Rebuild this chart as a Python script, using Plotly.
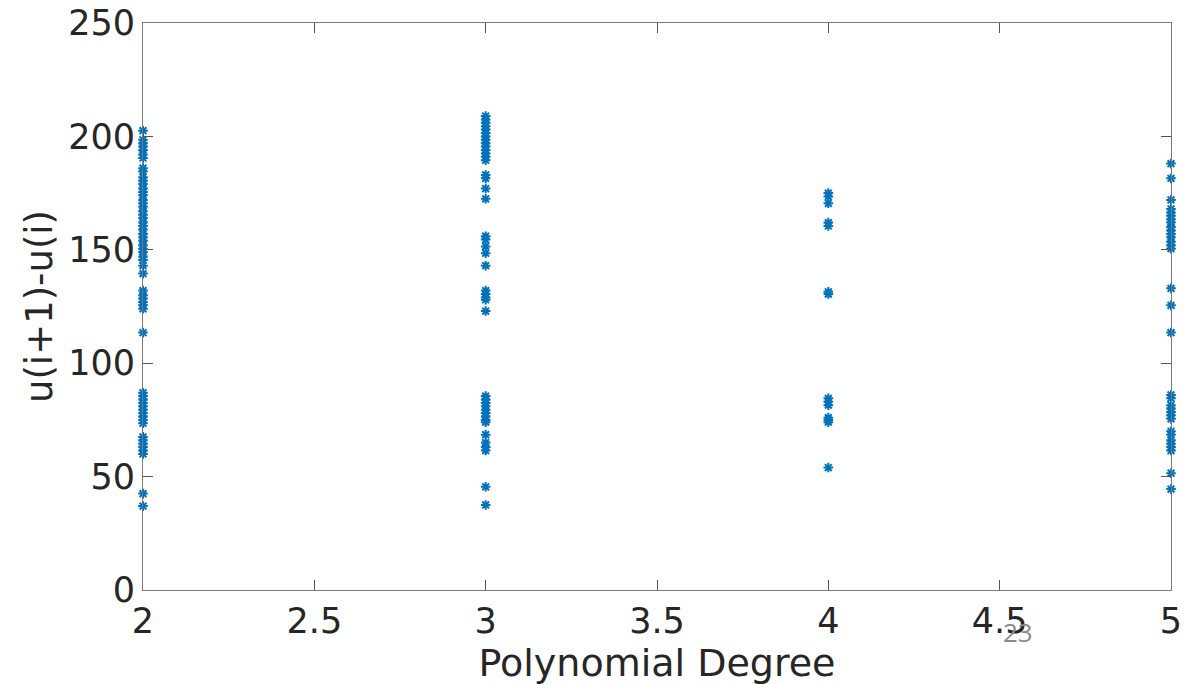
import plotly.graph_objects as go

# Data
degrees = [2, 3, 4, 5]
deg2_values = [202.5, 198.5, 197, 195.5, 194, 192, 190.5, 186, 184.5, 182, 180.5, 179, 177,
               175.5, 174, 172, 170.5, 169, 167, 165.5, 164, 162, 160.5, 159, 157, 155.5, 154,
               152, 150.5, 149, 147, 145.5, 143, 139.5, 132, 130, 128.5, 127, 125.5, 124, 113.5,
               87, 85.5, 84, 82.5, 81, 79.5, 78, 76.5, 75, 73.5, 67.5, 66, 64.5, 63, 61.5, 60,
               42.5, 37]
deg3_values = [209, 207.5, 206, 204.5, 203, 201.5, 200, 198.5, 197, 195.5, 194, 192.5, 191,
               189.5, 183, 181.5, 177, 172.5, 156, 154.5, 151.5, 148.5, 143, 132, 130.5, 129,
               128, 123, 85.5, 84, 82.5, 81, 79.5, 78, 76.5, 75, 74, 68.5, 65, 63, 61.5, 45.5, 37.5]
deg4_values = [175, 173.5, 170.5, 162, 160.5, 131.5, 130.5, 84.5, 83, 81.5, 76, 75, 74, 54]
deg5_values = [188, 181.5, 172, 168, 166.5, 165, 163.5, 162, 160, 158.5, 157, 155.5, 153.5,
               152, 150.5, 133, 125.5, 113.5, 86, 84.5, 81.5, 80, 78.5, 77, 75.5, 70, 68.5, 66,
               64.5, 63, 61.5, 51.5, 44.5]
x_ticks = [2, 2.5, 3, 3.5, 4, 4.5, 5]
x_tick_labels = ["2", "2.5", "3", "3.5", "4", "4.5", "5"]
y_ticks = [0, 50, 100, 150, 200, 250]
y_tick_labels = ["0", "50", "100", "150", "200", "250"]
page_number = "23"

xs, ys = [], []
for d, vals in zip(degrees, [deg2_values, deg3_values, deg4_values, deg5_values]):
    xs += [d] * len(vals)
    ys += vals

fig = go.Figure()
fig.add_trace(go.Scatter(
    x=xs, y=ys, mode="markers", cliponaxis=False,
    marker=dict(symbol="asterisk-open", size=8, color="#0072BD",
                line=dict(color="#0072BD", width=2)),
    showlegend=False,
))

font_family = "DejaVu Sans"
axis_common = dict(
    showgrid=False, zeroline=False, showline=True, linecolor="#7a7a7a", linewidth=1,
    mirror="ticks", ticks="inside", ticklen=10, tickcolor="#555555", tickwidth=1,
    tickfont=dict(family=font_family, size=35, color="#262626"), automargin=False,
    ticklabeloverflow="allow",
)
fig.update_xaxes(range=[2, 5], tickvals=x_ticks, ticktext=x_tick_labels,
                 title=dict(text="Polynomial Degree", standoff=4,
                            font=dict(family=font_family, size=38, color="#262626")),
                 **axis_common)
fig.update_yaxes(range=[0, 250], tickvals=y_ticks, ticktext=y_tick_labels,
                 title=dict(text="u(i+1)-u(i)", standoff=4,
                            font=dict(family=font_family, size=37, color="#262626")),
                 **axis_common)

fig.add_annotation(text=page_number, xref="paper", yref="paper", x=(1018 - 143) / (1171 - 143),
                   y=-(632 - 590) / (590 - 23), xanchor="center", yanchor="middle",
                   showarrow=False, font=dict(family="Open Sans", size=26, color="#8a8a8a"))

# page body adds an 8px offset; margins compensate so plot area lands at 143..1171 x 23..590
fig.update_layout(
    width=1194, height=684,
    margin=dict(l=135, r=31, t=15, b=102),
    paper_bgcolor="white", plot_bgcolor="white",
)
fig.write_html("out.html")
